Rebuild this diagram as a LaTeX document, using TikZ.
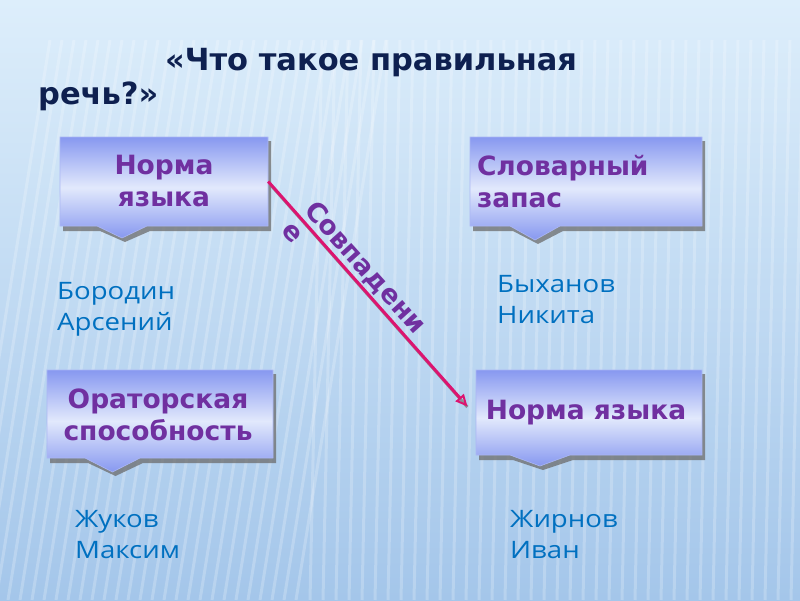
\documentclass[tikz,border=0pt]{standalone}
\usepackage{fontspec}
\setmainfont{DejaVu Sans}
\newfontfamily\namefont[FakeStretch=1.15]{Open Sans}
\usetikzlibrary{arrows.meta}
\definecolor{bgtop}{HTML}{DDEEFB}
\definecolor{bgbot}{HTML}{A4C6EA}
\definecolor{boxblue}{HTML}{8798F0}
\definecolor{boxpale}{HTML}{E2E9FC}
\definecolor{purp}{HTML}{7030A0}
\definecolor{nameblue}{HTML}{0070C0}
\definecolor{titlecol}{HTML}{0E2050}
\definecolor{arrcol}{HTML}{DC1470}
\tikzset{
  boxnode/.style={inner sep=0pt, font=\bfseries\fontsize{26.5}{32}\selectfont, text=purp, align=center},
  namenode/.style={inner sep=0pt, anchor=north west, align=left, font=\namefont\fontsize{24}{31}\selectfont, text=nameblue},
  titlenode/.style={inner sep=0pt, anchor=base west, text=titlecol, font=\bfseries\fontsize{30.5}{40}\selectfont},
  stripe/.style={white, line width=3pt, opacity=0.22},
  conn/.style={arrcol, line width=3pt, -{Triangle[open, length=12pt, width=11pt, line width=2pt]}},
  connshadow/.style={gray, line width=3pt, opacity=0.8}
}
% #1 x1, #2 y1, #3 x2, #4 y2, #5 tab left, #6 tab right, #7 tip y
\newcommand\callbox[7]{%
  \fill[gray!85!black, opacity=0.75] ({#1+3},{#2+4}) -- ({#3+3},{#2+4}) -- ({#3+3},{#4+5}) -- ({#6+3},{#4+5}) -- ({(#5+#6)/2+3},{#7+4}) -- ({#5+3},{#4+5}) -- ({#1+3},{#4+5}) -- cycle;
  \shade[top color=boxblue, bottom color=boxblue, middle color=boxpale, draw=boxblue!70!white, line width=0.6pt]
    (#1,#2) -- (#3,#2) -- (#3,#4) -- (#6,#4) -- ({(#5+#6)/2},#7) -- (#5,#4) -- (#1,#4) -- cycle;
}
\begin{document}
\begin{tikzpicture}[x=1pt, y=-1pt]
\useasboundingbox (0,0) rectangle (800,600);
% background
\shade[top color=bgtop, bottom color=bgbot] (0,0) rectangle (800,600);
\foreach \x in {-40,-28,...,300} {
  \draw[stripe] ({\x+90},40) -- (\x,600);
}
\foreach \x in {310,323,...,800} {
  \draw[stripe] ({\x+12},40) -- (\x,600);
}
% title
\node[titlenode] (t1) at (165,70) {«Что такое правильная};
\node[titlenode] (t2) at (38,104) {речь?»};
% boxes
\callbox{60}{137}{268}{226}{97}{147}{238}
\callbox{470}{137}{702}{226}{510}{560}{240}
\callbox{47}{370}{273}{458}{85}{140}{472}
\callbox{476}{370}{702}{455}{510}{570}{466}
\node[boxnode, minimum width=208pt, minimum height=89pt] (b1) at (164,181.5) {Норма\\языка};
\node[boxnode, minimum width=232pt, minimum height=89pt, text width=218pt, align=left] (b2) at (586,181.5) {Словарный\\запас};
\node[boxnode, minimum width=226pt, minimum height=88pt] (b3) at (158,415) {Ораторская\\способность};
\node[boxnode, minimum width=226pt, minimum height=85pt] (b4) at (586,412.5) {Норма языка};
% connector
\draw[connshadow, shorten >=12pt, transform canvas={shift={(2.5pt,-3.5pt)}}] (b1.east) -- (b4.west);
\draw[conn, shorten >=8pt] (b1.east) -- (b4.west);
\node[rotate=-48, inner sep=0pt, align=left, text=purp, font=\bfseries\fontsize{26.5}{30}\selectfont] (lab) at (355,277) {Совпадени\\е};
% names
\node[namenode] (n1) at (57,282) {Бородин\\Арсений};
\node[namenode] (n2) at (497,275) {Быханов\\Никита};
\node[namenode] (n3) at (75,510) {Жуков\\Максим};
\node[namenode] (n4) at (510,510) {Жирнов\\Иван};
\end{tikzpicture}
\end{document}
